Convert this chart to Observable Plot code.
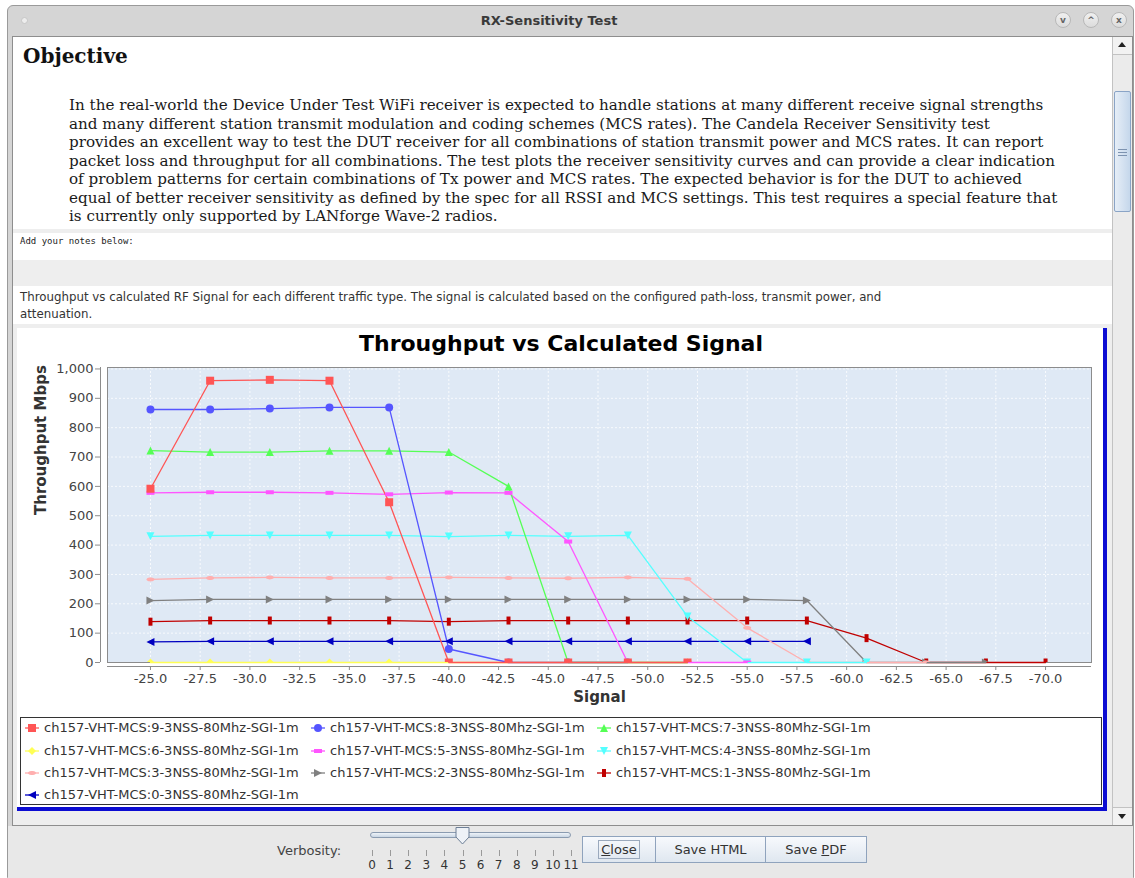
<!DOCTYPE html>
<html>
<head>
<meta charset="utf-8">
<script src="https://cdn.jsdelivr.net/npm/d3@7"></script>
<script src="https://cdn.jsdelivr.net/npm/@observablehq/plot@0.6"></script>
<style>
html,body{margin:0;padding:0;}
body{width:1135px;height:878px;position:relative;overflow:hidden;background:#ffffff;font-family:"DejaVu Sans",sans-serif;color:#333;}
.a{position:absolute;box-sizing:border-box;}
.ln{position:absolute;left:0;white-space:nowrap;}
.btn{position:absolute;box-sizing:border-box;border:1px solid #8fa3bd;background:linear-gradient(#f7f9fc,#dfe7f0);font:13px "DejaVu Sans";color:#333;text-align:center;}
.circ{position:absolute;box-sizing:border-box;width:16px;height:16px;border-radius:50%;background:linear-gradient(#f0f0f0,#dcdcdc);border:1px solid #b8b8b8;font:bold 9px "DejaVu Sans";color:#666;text-align:center;line-height:14px;}
</style>
</head>
<body>
<!-- window frame -->
<div class="a" style="left:7px;top:5px;width:1127px;height:873px;background:#d5d5d5;border:1px solid #9a9a9a;border-radius:6px 6px 0 0;"></div>
<div class="a" style="left:7px;top:13px;width:1084px;text-align:center;font:bold 13px 'DejaVu Sans';line-height:16px;color:#3a3a3a;">RX-Sensitivity Test</div>
<div class="a" style="left:21px;top:17px;width:7px;height:7px;border-radius:50%;background:#ededed;border:1px solid #c6c6c6;"></div>
<div class="circ" style="left:1055px;top:12px;">v</div>
<div class="circ" style="left:1083px;top:12px;">^</div>
<div class="circ" style="left:1111px;top:12px;">x</div>

<!-- scroll pane -->
<div class="a" style="left:12px;top:36px;width:1121px;height:790px;background:#eeeeee;border:1px solid #8e8e8e;"></div>
<div class="a" style="left:13px;top:37px;width:1099px;height:192px;background:#ffffff;"></div>
<div class="a" style="left:13px;top:233px;width:1099px;height:27px;background:#ffffff;"></div>
<div class="a" style="left:13px;top:286px;width:1099px;height:38px;background:#ffffff;"></div>

<!-- scrollbar -->
<div class="a" style="left:1112px;top:37px;width:20px;height:788px;background:#ebebeb;border-left:1px solid #c2c2c2;"></div>
<div class="a" style="left:1113px;top:37px;width:19px;height:18px;background:#f2f2f2;border-bottom:1px solid #c2c2c2;"></div>
<div class="a" style="left:1118px;top:42px;width:0;height:0;border-left:4px solid transparent;border-right:4px solid transparent;border-bottom:5px solid #222;"></div>
<div class="a" style="left:1114px;top:91px;width:17px;height:121px;background:linear-gradient(to right,#e6eef7,#c5d7eb);border:1px solid #8aa4c6;border-radius:2px;"></div>
<div class="a" style="left:1118px;top:149px;width:9px;height:1px;background:#7d93b0;"></div>
<div class="a" style="left:1118px;top:152px;width:9px;height:1px;background:#7d93b0;"></div>
<div class="a" style="left:1118px;top:155px;width:9px;height:1px;background:#7d93b0;"></div>
<div class="a" style="left:1113px;top:807px;width:19px;height:18px;background:#f2f2f2;border-top:1px solid #c2c2c2;"></div>
<div class="a" style="left:1118px;top:814px;width:0;height:0;border-left:4px solid transparent;border-right:4px solid transparent;border-top:5px solid #222;"></div>

<!-- objective text -->
<div class="a" style="left:23px;top:44px;font:bold 20px 'DejaVu Serif';line-height:24px;color:#111;white-space:nowrap;">Objective</div>
<div id="para" class="a" style="left:69px;top:0;width:1040px;height:0;font-family:'DejaVu Serif',serif;font-size:14px;line-height:18px;color:#1a1a1a;">
<div class="ln" style="top:96px;">In the real-world the Device Under Test WiFi receiver is expected to handle stations at many different receive signal strengths</div>
<div class="ln" style="top:114.5px;">and many different station transmit modulation and coding schemes (MCS rates). The Candela Receiver Sensitivity test</div>
<div class="ln" style="top:133px;">provides an excellent way to test the DUT receiver for all combinations of station transmit power and MCS rates. It can report</div>
<div class="ln" style="top:151.5px;">packet loss and throughput for all combinations. The test plots the receiver sensitivity curves and can provide a clear indication</div>
<div class="ln" style="top:170px;">of problem patterns for certain combinations of Tx power and MCS rates. The expected behavior is for the DUT to achieved</div>
<div class="ln" style="top:188.5px;">equal of better receiver sensitivity as defined by the spec for all RSSI and MCS settings. This test requires a special feature that</div>
<div class="ln" style="top:207px;">is currently only supported by LANforge Wave-2 radios.</div>
</div>
<div class="a" style="left:20px;top:236px;font:9px 'DejaVu Sans Mono',monospace;line-height:11px;color:#222;white-space:nowrap;">Add your notes below:</div>
<div id="desc" class="a" style="left:20px;top:0;width:1080px;height:0;font-family:'DejaVu Sans',sans-serif;font-size:12px;line-height:16px;color:#333;">
<div class="ln" style="top:289px;">Throughput vs calculated RF Signal for each different traffic type. The signal is calculated based on the configured path-loss, transmit power, and</div>
<div class="ln" style="top:306px;">attenuation.</div>
</div>

<!-- chart panel -->
<div class="a" style="left:17px;top:328px;width:1090px;height:483px;background:#ffffff;border-right:4px solid #0c0cd2;border-bottom:4px solid #0c0cd2;"></div>
<div class="a" style="left:17px;top:330px;width:1088px;text-align:center;font:bold 22px 'DejaVu Sans';line-height:28px;color:#000;white-space:nowrap;">Throughput vs Calculated Signal</div>
<div id="chart" class="a" style="left:18px;top:355px;"></div>
<div class="a" style="left:20px;top:717px;width:1082px;height:88px;border:1px solid #333;background:#fff;"></div>
<div id="legend"></div>

<!-- bottom panel -->
<div class="a" style="left:8px;top:826px;width:1125px;height:52px;background:#e8e8e8;"></div>
<div class="a" style="left:277px;top:843px;font:13px 'DejaVu Sans';line-height:16px;color:#444;white-space:nowrap;">Verbosity:</div>
<div class="a" style="left:370px;top:832px;width:201px;height:6px;border:1px solid #8a9bb0;border-radius:3px;background:linear-gradient(#eef3f8,#c9d6e4);"></div>
<svg class="a" style="left:454px;top:826px;" width="18" height="20"><path d="M2,1.5 H15 V11 L8.5,18 L2,11 Z" fill="#eef2f7" stroke="#6d7f96" stroke-width="1"/></svg>
<div id="sliderTicks"></div>
<div class="btn" style="left:582px;top:836px;width:74px;height:27px;line-height:25px;"><span style="border:1px solid #9aa9bd;padding:1px 2px;"><u>C</u>lose</span></div>
<div class="btn" style="left:655px;top:836px;width:111px;height:27px;line-height:25px;">Save HTML</div>
<div class="btn" style="left:765px;top:836px;width:102px;height:27px;line-height:25px;">Save <u>P</u>DF</div>

<script>
// ---------------- data ----------------
const signal = [-25, -28, -31, -34, -37, -40, -43, -46, -49, -52, -55, -58, -61, -64, -67, -70];
const seriesNames = [
  "ch157-VHT-MCS:9-3NSS-80Mhz-SGI-1m",
  "ch157-VHT-MCS:8-3NSS-80Mhz-SGI-1m",
  "ch157-VHT-MCS:7-3NSS-80Mhz-SGI-1m",
  "ch157-VHT-MCS:6-3NSS-80Mhz-SGI-1m",
  "ch157-VHT-MCS:5-3NSS-80Mhz-SGI-1m",
  "ch157-VHT-MCS:4-3NSS-80Mhz-SGI-1m",
  "ch157-VHT-MCS:3-3NSS-80Mhz-SGI-1m",
  "ch157-VHT-MCS:2-3NSS-80Mhz-SGI-1m",
  "ch157-VHT-MCS:1-3NSS-80Mhz-SGI-1m",
  "ch157-VHT-MCS:0-3NSS-80Mhz-SGI-1m"
];
const tputMcs9 = [592, 960, 963, 960, 546, 0, 0, 0, 0, 0];
const tputMcs8 = [862, 862, 865, 869, 869, 46, 0, 0, 0];
const tputMcs7 = [722, 717, 717, 721, 721, 717, 600, 0, 0, 0];
const tputMcs6 = [0, 0, 0, 0, 0, 0, 0, 0, 0, 0];
const tputMcs5 = [578, 580, 580, 578, 573, 579, 578, 412, 0, 0, 0];
const tputMcs4 = [430, 433, 433, 433, 433, 429, 433, 430, 433, 157, 0, 0, 0];
const tputMcs3 = [283, 288, 290, 288, 288, 290, 288, 287, 290, 285, 118, 0, 0, 0];
const tputMcs2 = [211, 215, 215, 215, 215, 215, 215, 215, 215, 215, 215, 211, 0, 0, 0];
const tputMcs1 = [139, 143, 143, 143, 143, 139, 143, 143, 143, 143, 143, 143, 83, 0, 0, 0];
const tputMcs0 = [70, 72, 72, 72, 72, 72, 72, 72, 72, 72, 72, 72];
const xTicks = [-25, -27.5, -30, -32.5, -35, -37.5, -40, -42.5, -45, -47.5, -50, -52.5, -55, -57.5, -60, -62.5, -65, -67.5, -70];
const yTicks = [0, 100, 200, 300, 400, 500, 600, 700, 800, 900, 1000];
const verbosityLabels = ["0", "1", "2", "3", "4", "5", "6", "7", "8", "9", "10", "11"];

// ---------------- styles ----------------
const seriesColors = ["#FF5555", "#5555FF", "#55FF55", "#FFFF55", "#FF55FF", "#55FFFF", "#FFAFAF", "#808080", "#C00000", "#0000C0"];
const poly = pts => ({draw(ctx, size) {
  const s = Math.sqrt(size / Math.PI);
  ctx.moveTo(pts[0][0] * s, pts[0][1] * s);
  for (let i = 1; i < pts.length; i++) ctx.lineTo(pts[i][0] * s, pts[i][1] * s);
  ctx.closePath();
}});
const circleSym = {draw(ctx, size) { const s = Math.sqrt(size / Math.PI); ctx.moveTo(s, 0); ctx.arc(0, 0, s, 0, 2 * Math.PI); ctx.closePath(); }};
const ellipsePts = d3.range(24).map(k => [Math.cos(k / 24 * 2 * Math.PI), 0.5 * Math.sin(k / 24 * 2 * Math.PI)]);
const seriesShapes = [
  poly([[-1, -1], [1, -1], [1, 1], [-1, 1]]),          // square
  circleSym,                                           // circle
  poly([[0, -1], [1, 1], [-1, 1]]),                    // up triangle
  poly([[0, -1], [1, 0], [0, 1], [-1, 0]]),            // diamond
  poly([[-1, -0.5], [1, -0.5], [1, 0.5], [-1, 0.5]]),  // horizontal rectangle
  poly([[-1, -1], [1, -1], [0, 1]]),                   // down triangle
  poly(ellipsePts),                                    // horizontal ellipse
  poly([[-1, -1], [1, 0], [-1, 1]]),                   // right triangle
  poly([[-0.5, -1], [0.5, -1], [0.5, 1], [-0.5, 1]]),  // vertical rectangle
  poly([[1, -1], [-1, 0], [1, 1]])                     // left triangle
];

// ---------------- chart ----------------
const seriesValues = [tputMcs9, tputMcs8, tputMcs7, tputMcs6, tputMcs5, tputMcs4, tputMcs3, tputMcs2, tputMcs1, tputMcs0];
const tables = seriesValues.map((vals, i) => vals.map((v, j) => ({signal: signal[j], tput: v, series: seriesNames[i]})));
const order = d3.range(seriesValues.length).reverse();
const xDomain = [-22.84, -72.31];
const axisGray = "#8c8c8c";

const chart = Plot.plot({
  width: 1085,
  height: 350,
  marginLeft: 89,
  marginRight: 12,
  marginTop: 12,
  marginBottom: 43,
  style: {fontFamily: "DejaVu Sans", fontSize: "13px", color: "#444", background: "transparent", overflow: "visible"},
  x: {domain: xDomain},
  y: {domain: [0, 1005]},
  marks: [
    Plot.frame({fill: "#dfe9f5"}),
    Plot.gridX(xTicks, {stroke: "#ffffff", strokeOpacity: 1, strokeWidth: 0.8, strokeDasharray: "2,2"}),
    Plot.gridY(yTicks, {stroke: "#ffffff", strokeOpacity: 1, strokeWidth: 0.8, strokeDasharray: "2,2"}),
    Plot.frame({stroke: axisGray}),
    ...order.map(i => Plot.line(tables[i], {x: "signal", y: "tput", stroke: seriesColors[i], strokeWidth: 1.3})),
    ...order.map(i => Plot.dot(tables[i], {x: "signal", y: "tput", symbol: seriesShapes[i], fill: seriesColors[i], r: 4, clip: true})),
    Plot.ruleY([0], {dy: 4, stroke: axisGray}),
    Plot.ruleX([xDomain[0]], {dx: -7, stroke: axisGray}),
    Plot.axisX(xTicks, {anchor: "bottom", tickFormat: d => d.toFixed(1), tickSize: 4, tickPadding: 3, dy: 4, label: null, stroke: axisGray, fill: "#444"}),
    Plot.axisY(yTicks, {anchor: "left", tickFormat: d3.format(","), tickSize: 5, tickPadding: 2, dx: -7, label: null, stroke: axisGray, fill: "#444"}),
    Plot.text(["Signal"], {frameAnchor: "bottom", dy: 39, fontWeight: "bold", fontSize: 15, fill: "#333"}),
    Plot.text(["Throughput Mbps"], {frameAnchor: "left", dx: -66, rotate: -90, fontWeight: "bold", fontSize: 15, fill: "#333"})
  ]
});
document.getElementById("chart").appendChild(chart);

// ---------------- legend ----------------
const legend = document.getElementById("legend");
const colX = [44, 330, 616];
const rowY = [728, 750.5, 772.5, 794.5];
seriesNames.forEach((name, i) => {
  const cx = colX[i % 3], cy = rowY[Math.floor(i / 3)];
  const p = d3.path();
  seriesShapes[i].draw(p, 16 * Math.PI);
  const svg = document.createElementNS("http://www.w3.org/2000/svg", "svg");
  svg.setAttribute("width", 16); svg.setAttribute("height", 12);
  svg.setAttribute("class", "a");
  svg.style.left = (cx - 20.5) + "px"; svg.style.top = (cy - 6) + "px";
  svg.innerHTML = `<line x1="1" x2="15" y1="6" y2="6" stroke="${seriesColors[i]}" stroke-width="1.3"/><path transform="translate(8,6)" d="${p.toString()}" fill="${seriesColors[i]}"/>`;
  legend.appendChild(svg);
  const t = document.createElement("div");
  t.className = "a leg";
  t.style.cssText = `left:${cx}px;top:${cy - 8}px;font:13px 'DejaVu Sans';line-height:16px;color:#333;white-space:nowrap;`;
  t.textContent = name;
  legend.appendChild(t);
});

// ---------------- slider ticks ----------------
const st = document.getElementById("sliderTicks");
verbosityLabels.forEach((lab, i) => {
  const x = 372 + i * 18.1;
  const tk = document.createElement("div");
  tk.className = "a";
  tk.style.cssText = `left:${x}px;top:850px;width:1px;height:6px;background:#9a9a9a;`;
  st.appendChild(tk);
  const tl = document.createElement("div");
  tl.className = "a";
  tl.style.cssText = `left:${x - 10}px;width:20px;top:858px;text-align:center;font:12px 'DejaVu Sans';line-height:14px;color:#333;`;
  tl.textContent = lab;
  st.appendChild(tl);
});

// ---------------- fit text widths ----------------
function fitBlock(id, target) {
  const el = document.getElementById(id);
  const first = el.querySelector(".ln");
  const w = first.getBoundingClientRect().width;
  const fs = parseFloat(getComputedStyle(el).fontSize);
  el.style.fontSize = (fs * target / w) + "px";
}
fitBlock("para", 975);
fitBlock("desc", 862);
</script>
</body>
</html>
